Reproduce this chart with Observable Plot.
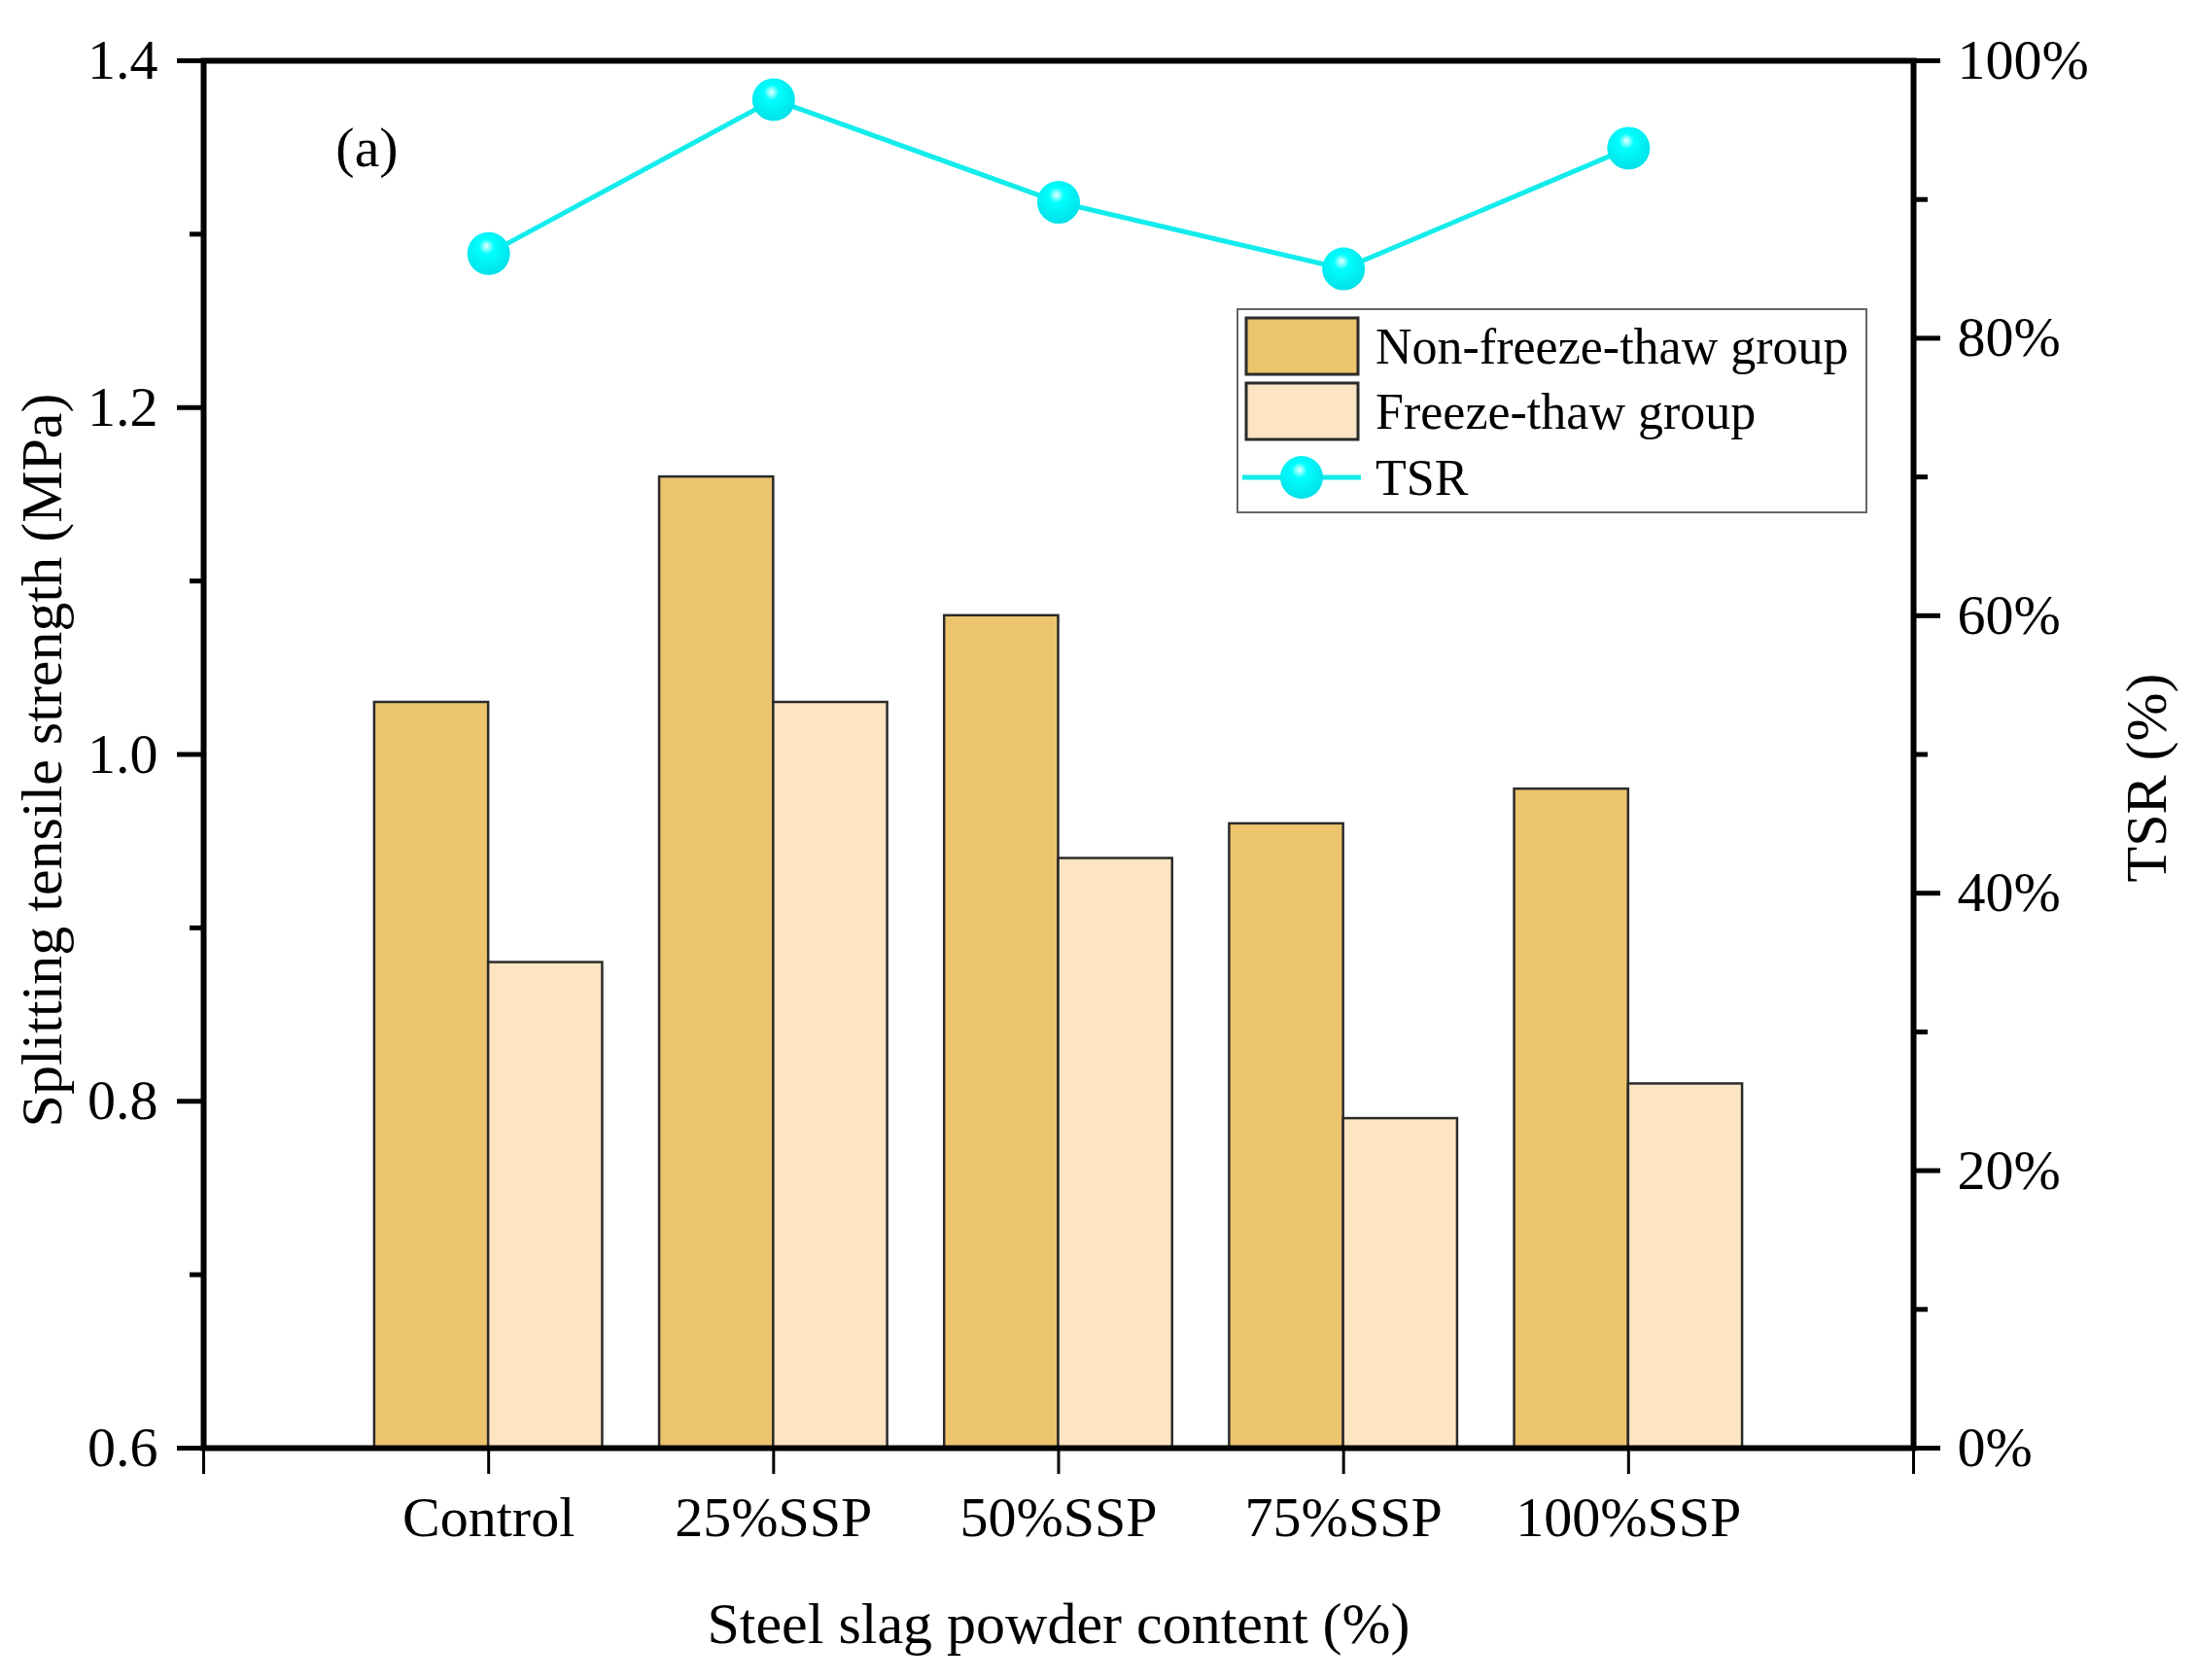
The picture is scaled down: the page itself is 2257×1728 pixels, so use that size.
<!DOCTYPE html>
<html>
<head>
<meta charset="utf-8">
<script src="https://cdn.jsdelivr.net/npm/d3@7"></script>
<script src="https://cdn.jsdelivr.net/npm/@observablehq/plot@0.6"></script>
<style>
  body { margin: 0; background: white; }
</style>
</head>
<body>
<div id="chart"></div>
<script>
// data
const categories = ["Control", "25%SSP", "50%SSP", "75%SSP", "100%SSP"];
const nonFreeze = [1.03, 1.16, 1.08, 0.96, 0.98];
const freeze = [0.88, 1.03, 0.94, 0.79, 0.81];
const tsr = [86.1, 97.2, 89.8, 85.0, 93.7];

const leftTicks = [0.6, 0.8, 1.0, 1.2, 1.4];
const leftMinor = [0.7, 0.9, 1.1, 1.3];
const rightTicks = [0, 20, 40, 60, 80, 100];
const rightMinor = [10, 30, 50, 70, 90];
const xTicks = [0, 1, 2, 3, 4, 5, 6];

const colNon = "#edc46e";
const colFreeze = "#fde4c3";
const colTsr = "#14ecec";

const yMin = leftTicks[0], yMax = leftTicks[leftTicks.length - 1];
// map TSR (%) onto the left scale so both share one y
const tsrY = p => yMin + p / 100 * (yMax - yMin);

const rows = categories.map((c, i) => ({
  pos: i + 1, cat: c, non: nonFreeze[i], fr: freeze[i], tsr: tsr[i]
}));

const W = 2257, H = 1728;

let chart = Plot.plot({
  width: W,
  height: H,
  marginLeft: 209,
  marginRight: 289,
  marginTop: 62,
  marginBottom: 239,
  style: {
    background: "white",
    color: "black",
    fontFamily: "'Liberation Serif', 'Times New Roman', serif",
    fontSize: "58px"
  },
  x: {domain: [0, 6]},
  y: {domain: [yMin, yMax]},
  marks: [
    Plot.rect(rows, {
      x1: d => d.pos - 0.4, x2: d => d.pos, y1: () => yMin, y2: "non",
      fill: colNon, stroke: "#2b2b2b", strokeWidth: 2.5
    }),
    Plot.rect(rows, {
      x1: d => d.pos, x2: d => d.pos + 0.4, y1: () => yMin, y2: "fr",
      fill: colFreeze, stroke: "#2b2b2b", strokeWidth: 2.5
    }),
    Plot.line(rows, {x: "pos", y: d => tsrY(d.tsr), stroke: colTsr, strokeWidth: 5}),
    Plot.dot(rows, {x: "pos", y: d => tsrY(d.tsr), r: 22, fill: "url(#sphere)", stroke: "none"}),

    // left axis
    Plot.axisY(leftTicks, {
      anchor: "left", tickSize: 27, tickPadding: 20, strokeWidth: 5,
      tickFormat: d3.format(".1f"), label: null
    }),
    Plot.axisY(leftMinor, {
      anchor: "left", tickSize: 14, strokeWidth: 5, tickFormat: () => "", label: null
    }),
    // right axis (TSR)
    Plot.axisY(rightTicks.map(tsrY), {
      anchor: "right", tickSize: 27, tickPadding: 18, strokeWidth: 5,
      tickFormat: v => Math.round((v - yMin) / (yMax - yMin) * 100) + "%", label: null
    }),
    Plot.axisY(rightMinor.map(tsrY), {
      anchor: "right", tickSize: 14, strokeWidth: 5, tickFormat: () => "", label: null
    }),
    // x axis
    Plot.axisX(xTicks, {
      anchor: "bottom", tickSize: 27, tickPadding: 22, strokeWidth: 3,
      tickFormat: d => categories[d - 1] ?? "", label: null
    }),
    Plot.frame({stroke: "black", strokeWidth: 6}),

    Plot.text(["Steel slag powder content (%)"], {
      frameAnchor: "bottom", dy: 181, fontSize: 60, textAnchor: "middle", lineAnchor: "middle"
    }),
    Plot.text(["Splitting tensile strength (MPa)"], {
      frameAnchor: "left", rotate: -90, dx: -166, dy: 6, fontSize: 60,
      textAnchor: "middle", lineAnchor: "middle"
    }),
    Plot.text(["TSR (%)"], {
      frameAnchor: "right", rotate: -90, dx: 240, dy: 24, fontSize: 60,
      textAnchor: "middle", lineAnchor: "middle"
    }),
    Plot.text(["(a)"], {
      frameAnchor: "top-left", dx: 168, dy: 90, fontSize: 58,
      textAnchor: "middle", lineAnchor: "middle"
    })
  ]
});

const svg = d3.select(chart);

// shaded sphere for the TSR markers
const grad = svg.insert("defs", ":first-child")
  .append("radialGradient")
  .attr("id", "sphere")
  .attr("cx", "45%").attr("cy", "38%").attr("r", "60%")
  .attr("fx", "45%").attr("fy", "32%");
grad.append("stop").attr("offset", "0%").attr("stop-color", "#e8ffff");
grad.append("stop").attr("offset", "30%").attr("stop-color", "#00ffff");
grad.append("stop").attr("offset", "100%").attr("stop-color", "#00e2ea");

// legend inside the plot
const lg = svg.append("g").attr("font-size", 52).attr("text-anchor", "start");
lg.append("rect")
  .attr("x", 1273).attr("y", 318).attr("width", 647).attr("height", 209)
  .attr("fill", "white").attr("stroke", "#666").attr("stroke-width", 2);

const legendItems = [
  {label: "Non-freeze-thaw group", type: "box", fill: colNon, cy: 356},
  {label: "Freeze-thaw group", type: "box", fill: colFreeze, cy: 423},
  {label: "TSR", type: "line", fill: colTsr, cy: 491}
];
legendItems.forEach(it => {
  if (it.type === "box") {
    lg.append("rect")
      .attr("x", 1282).attr("y", it.cy - 29).attr("width", 115).attr("height", 58)
      .attr("fill", it.fill).attr("stroke", "#2b2b2b").attr("stroke-width", 3);
  } else {
    lg.append("line")
      .attr("x1", 1278).attr("x2", 1400).attr("y1", it.cy).attr("y2", it.cy)
      .attr("stroke", it.fill).attr("stroke-width", 5);
    lg.append("circle")
      .attr("cx", 1339).attr("cy", it.cy).attr("r", 22)
      .attr("fill", "url(#sphere)");
  }
  lg.append("text")
    .attr("x", 1415).attr("y", it.cy).attr("dy", "0.35em")
    .text(it.label);
});

d3.select("#chart").append(() => chart);
</script>
</body>
</html>
